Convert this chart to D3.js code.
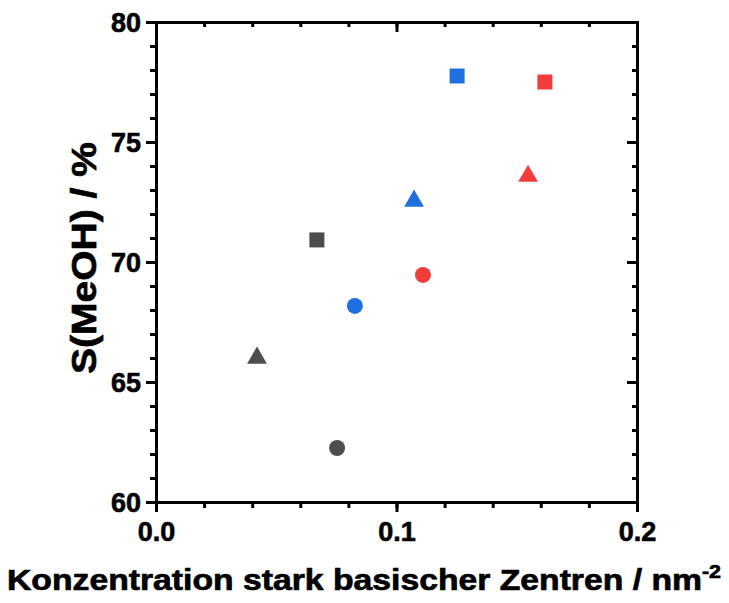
<!DOCTYPE html>
<html>
<head>
<meta charset="utf-8">
<script src="https://cdn.jsdelivr.net/npm/d3@7"></script>
<style>
  body { margin: 0; background: #fff; }
  svg { font-family: "Liberation Sans", Arial, sans-serif; font-weight: bold; }
</style>
</head>
<body>
<svg id="chart"></svg>
<script>
// values
const series = ["grey", "blue", "red"];
const shapes = ["square", "circle", "triangle"];
const xValues = [
  [0.0669, 0.0753, 0.0420],   // grey: square, circle, triangle
  [0.1252, 0.0827, 0.1073],   // blue
  [0.1617, 0.1110, 0.1547]    // red
];
const yValues = [
  [70.92, 62.25, 66.00],
  [77.75, 68.17, 72.54],
  [77.50, 69.46, 73.58]
];
const xTicks = [0.0, 0.1, 0.2];
const yTicks = [60, 65, 70, 75, 80];

const colors = { grey: "#4d4d4d", blue: "#1f6fe0", red: "#f23c3c" };

const width = 729, height = 603;
const margin = { top: 22, right: 92, bottom: 101, left: 156 };

const points = [];
series.forEach((s, i) => shapes.forEach((sh, j) => {
  points.push({ series: s, shape: sh, x: xValues[i][j], y: yValues[i][j] });
}));

const svg = d3.select("#chart").attr("width", width).attr("height", height);

const x = d3.scaleLinear().domain([0, 0.2]).range([margin.left, width - margin.right]);
const y = d3.scaleLinear().domain([60, 80]).range([height - margin.bottom, margin.top]);

const minorX = d3.range(0, 0.2001, 0.02);
const minorY = d3.range(60, 80.001, 1);

// outward axes: bottom and left
const axBottom = svg.append("g")
  .attr("transform", `translate(0,${y(60)})`)
  .call(d3.axisBottom(x).tickValues(minorX).tickSize(6).tickFormat(""));
axBottom.append("g").call(d3.axisBottom(x).tickValues(xTicks).tickSize(10).tickFormat(d3.format(".1f")));

const axLeft = svg.append("g")
  .attr("transform", `translate(${x(0)},0)`)
  .call(d3.axisLeft(y).tickValues(minorY).tickSize(6).tickFormat(""));
axLeft.append("g").call(d3.axisLeft(y).tickValues(yTicks).tickSize(10).tickFormat(d3.format("d")));

// mirrored inward axes: top and right
const axTop = svg.append("g")
  .attr("transform", `translate(0,${y(80)})`)
  .call(d3.axisBottom(x).tickValues(minorX).tickSize(5).tickFormat(""));
axTop.append("g").call(d3.axisBottom(x).tickValues(xTicks).tickSize(10).tickFormat(""));

const axRight = svg.append("g")
  .attr("transform", `translate(${x(0.2)},0)`)
  .call(d3.axisLeft(y).tickValues(minorY).tickSize(5).tickFormat(""));
axRight.append("g").call(d3.axisLeft(y).tickValues(yTicks).tickSize(10).tickFormat(""));

svg.selectAll(".domain").attr("stroke", "#000").attr("stroke-width", 3);
svg.selectAll(".tick line").attr("stroke", "#000").attr("stroke-width", 3);
svg.selectAll(".tick text").attr("font-size", 27).attr("fill", "#000")
  .attr("stroke", "#000").attr("stroke-width", 0.6)
  .attr("font-family", "Liberation Sans, Arial, sans-serif").attr("font-weight", "bold");
axBottom.selectAll(".tick text").attr("dy", "0.95em");
axLeft.selectAll(".tick text").attr("dx", "-2px").attr("dy", "0.36em");

// markers
const sym = {
  square: d3.symbol(d3.symbolSquare, 225),
  circle: d3.symbol(d3.symbolCircle, 200),
  triangle: d3.symbol(d3.symbolTriangle, 170)
};
svg.append("g").selectAll("path")
  .data(points)
  .join("path")
  .attr("transform", d => `translate(${x(d.x)},${y(d.y)})`)
  .attr("d", d => sym[d.shape]())
  .attr("fill", d => colors[d.series]);

// axis titles
const xt = svg.append("text")
  .attr("x", 364).attr("y", 590)
  .attr("text-anchor", "middle")
  .attr("font-size", 30)
  .attr("stroke", "#000").attr("stroke-width", 0.7)
  .attr("textLength", 714).attr("lengthAdjust", "spacingAndGlyphs");
xt.append("tspan").text("Konzentration stark basischer Zentren / nm");
xt.append("tspan").attr("dy", -12).attr("font-size", 19).text("-2");

svg.append("text")
  .attr("transform", `translate(96,258) rotate(-90)`)
  .attr("text-anchor", "middle")
  .attr("font-size", 35)
  .attr("stroke", "#000").attr("stroke-width", 0.7)
  .attr("textLength", 232).attr("lengthAdjust", "spacingAndGlyphs")
  .text("S(MeOH) / %");
</script>
</body>
</html>
